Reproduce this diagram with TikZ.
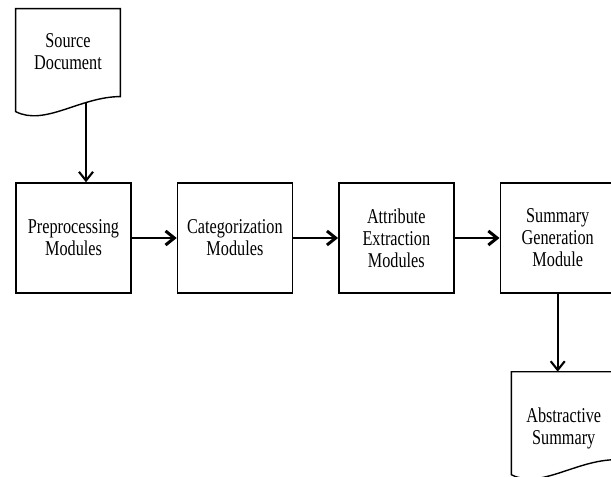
\documentclass[tikz,border=0pt]{standalone}
\usepackage{fontspec}
\setmainfont{Liberation Serif}[FakeStretch=0.77]
\usepackage{tikz}
\usetikzlibrary{arrows.meta,positioning}

\begin{document}
\begin{tikzpicture}[
      mod/.style={draw, line width=0.8pt, minimum width=2.3cm,
                  minimum height=2.2cm, align=center,
                  font=\fontsize{12}{12.5}\selectfont},
      doc/.style={minimum width=2.08cm, align=center,
                  font=\fontsize{12}{12.5}\selectfont},
      docline/.style={line width=0.8pt},
      arr/.style={-{Straight Barb[length=5pt,width=8pt]}, line width=1.7pt},
      varr/.style={-{Straight Barb[length=5pt,width=8pt]}, line width=1.2pt}
  ]
    \useasboundingbox (0,0) rectangle (12.22,9.52);
    \node[mod] at (1.47,4.76) (pre) {Preprocessing\\ Modules};
    \node[mod, right=0.9cm of pre] (cat) {Categorization\\ Modules};
    \node[mod, right=0.9cm of cat] (att) {Attribute\\ Extraction\\ Modules};
    \node[mod, right=0.9cm of att] (sum) {Summary\\ Generation\\ Module};
    \node[doc, minimum height=1.72cm, above=1.74cm of pre, xshift=-0.11cm] (src) {Source\\ Document};
    \node[doc, minimum height=2.24cm, below=1.56cm of sum, xshift=0.12cm] (abs) {Abstractive\\ Summary};
    % document outlines
    \draw[docline] (src.north west) -- ++(0,-2.06)
      .. controls +(0.58,-0.3) and +(-0.8,0) .. ([yshift=-1.76cm]src.north east)
      -- (src.north east) -- cycle;
    \draw[docline] (abs.north west) -- ++(0,-2.06)
      .. controls +(0.58,-0.3) and +(-0.8,0) .. ([yshift=-1.76cm]abs.north east)
      -- (abs.north east) -- cycle;
    \coordinate (srcb) at ([xshift=0.36cm,yshift=-1.88cm]src.north);
    \draw[varr] (srcb) -- (srcb |- pre.north);
    \draw[arr] (pre)--(cat); \draw[arr] (cat)--(att); \draw[arr] (att)--(sum);
    \draw[varr] (sum.south) -- (sum.south |- abs.north);
  \end{tikzpicture}
\end{document}
